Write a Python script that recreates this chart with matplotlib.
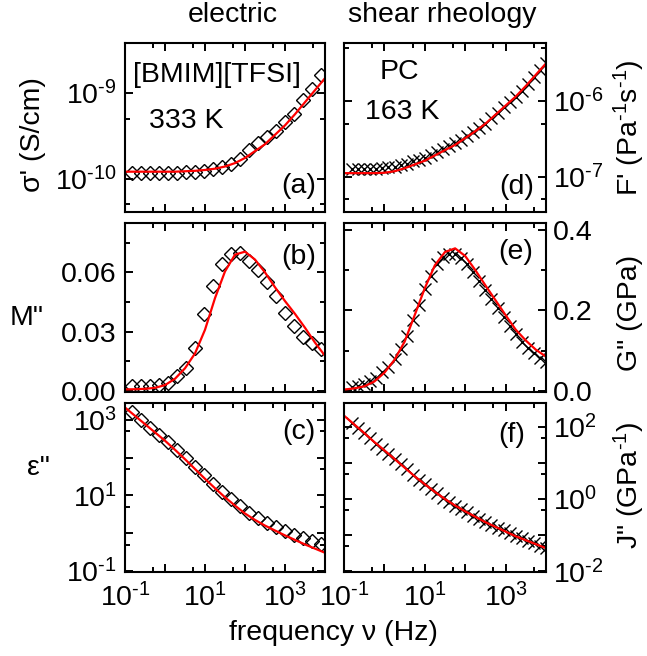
import numpy as np
import matplotlib
matplotlib.use('Agg')
import matplotlib.pyplot as plt
from matplotlib.ticker import FixedLocator, FuncFormatter, NullFormatter

plt.rcParams['font.family'] = ['Liberation Sans', 'DejaVu Sans']
plt.rcParams['mathtext.fontset'] = 'custom'
plt.rcParams['mathtext.rm'] = 'Liberation Sans'
plt.rcParams['mathtext.it'] = 'Liberation Sans:italic'
plt.rcParams['mathtext.bf'] = 'Liberation Sans:bold'
plt.rcParams['font.size'] = 20.5

# log10 of the measured frequencies (Hz)
lf_el = [-0.83, -0.61, -0.38, -0.16, 0.07, 0.30, 0.52, 0.75, 0.97, 1.20, 1.42,
         1.65, 1.87, 2.10, 2.32, 2.55, 2.77, 3.00, 3.22, 3.45, 3.67, 3.90]
lf_rh = [-0.80, -0.65, -0.50, -0.35, -0.20, -0.05, 0.10, 0.25, 0.40, 0.55, 0.70,
         0.85, 1.00, 1.15, 1.30, 1.45, 1.60, 1.75, 1.90, 2.05, 2.20, 2.35,
         2.50, 2.65, 2.80, 2.95, 3.10, 3.25, 3.40, 3.55, 3.70, 3.85, 4.00]
# log10 of the frequencies of the fit curves
lf_fit = [-1.0, -0.75, -0.5, -0.25, 0.0, 0.25, 0.5, 0.75, 1.0, 1.25, 1.5,
          1.75, 2.0, 2.25, 2.5, 2.75, 3.0, 3.25, 3.5, 3.75, 4.0]

# (a) log10 sigma' (S/cm)
sig_data = [-9.93, -9.93, -9.93, -9.93, -9.93, -9.93, -9.92, -9.92, -9.91, -9.89, -9.87,
            -9.83, -9.77, -9.67, -9.59, -9.51, -9.44, -9.34, -9.25, -9.09, -8.96, -8.79]
sig_fit = [-9.92, -9.92, -9.92, -9.92, -9.92, -9.92, -9.915, -9.91, -9.90, -9.885, -9.86,
           -9.82, -9.76, -9.68, -9.60, -9.49, -9.38, -9.25, -9.11, -8.97, -8.83]
# (b) M''
mpp_data = [0.0025, 0.0025, 0.0025, 0.003, 0.004, 0.0075, 0.0115, 0.022, 0.039, 0.053, 0.0645,
            0.0695, 0.070, 0.066, 0.061, 0.055, 0.048, 0.0395, 0.0328, 0.0272, 0.0242, 0.0215]
mpp_fit = [0.0008, 0.0009, 0.0011, 0.0016, 0.0030, 0.0062, 0.0115, 0.019, 0.031, 0.047, 0.0605,
           0.069, 0.0705, 0.0665, 0.060, 0.0525, 0.0455, 0.039, 0.032, 0.0245, 0.0178]
# (c) log10 eps''
eps_data = [3.20, 3.00, 2.80, 2.61, 2.41, 2.20, 1.99, 1.76, 1.54, 1.31, 1.10,
            0.90, 0.71, 0.54, 0.40, 0.27, 0.16, 0.05, -0.04, -0.13, -0.21, -0.30]
eps_fit = [3.33, 3.11, 2.89, 2.67, 2.45, 2.21, 1.96, 1.70, 1.44, 1.19, 0.95,
           0.73, 0.52, 0.35, 0.20, 0.07, -0.06, -0.18, -0.30, -0.41, -0.52]
# (d) log10 F' (Pa^-1 s^-1)
flu_data = [-6.90, -6.90, -6.90, -6.90, -6.895, -6.89, -6.88, -6.87, -6.85, -6.83, -6.80,
            -6.78, -6.75, -6.71, -6.68, -6.64, -6.60, -6.56, -6.52, -6.46, -6.41, -6.36,
            -6.30, -6.23, -6.16, -6.08, -6.01, -5.94, -5.86, -5.77, -5.68, -5.59, -5.50]
flu_fit = [-6.955, -6.955, -6.955, -6.955, -6.95, -6.93, -6.89, -6.84, -6.79, -6.72, -6.65,
           -6.58, -6.49, -6.40, -6.30, -6.18, -6.06, -5.94, -5.80, -5.65, -5.50]
# (e) G'' (GPa)
gpp_data = [0.010, 0.013, 0.017, 0.024, 0.033, 0.046, 0.060, 0.079, 0.105, 0.136, 0.175,
            0.214, 0.252, 0.285, 0.314, 0.332, 0.339, 0.340, 0.331, 0.316, 0.296, 0.274,
            0.251, 0.229, 0.206, 0.183, 0.161, 0.140, 0.122, 0.106, 0.093, 0.081, 0.071]
gpp_fit = [0.003, 0.006, 0.011, 0.023, 0.045, 0.077, 0.122, 0.188, 0.255, 0.312, 0.345,
           0.354, 0.335, 0.300, 0.262, 0.225, 0.188, 0.152, 0.125, 0.102, 0.085]
# (f) log10 J'' (GPa^-1)
jpp_data = [2.12, 1.97, 1.83, 1.68, 1.53, 1.40, 1.25, 1.11, 0.97, 0.82, 0.68,
            0.54, 0.41, 0.28, 0.16, 0.04, -0.07, -0.18, -0.28, -0.37, -0.46, -0.55,
            -0.64, -0.72, -0.80, -0.87, -0.95, -1.02, -1.09, -1.16, -1.23, -1.29, -1.35]
jpp_fit = [2.31, 2.07, 1.83, 1.58, 1.35, 1.11, 0.87, 0.63, 0.41, 0.20, 0.00,
           -0.18, -0.34, -0.49, -0.64, -0.77, -0.90, -1.03, -1.14, -1.25, -1.36]

W, H = 647, 656


def px(x, y):
    return x / W, 1 - y / H


def log_ticks(axis, lo, hi, labeled):
    majors = [10.0 ** e for e in range(lo, hi + 1)]
    minors = [5 * 10.0 ** e for e in range(lo - 1, hi + 1)]
    axis.set_major_locator(FixedLocator(majors))
    axis.set_minor_locator(FixedLocator(minors))
    axis.set_minor_formatter(NullFormatter())

    def fmt(v, pos):
        e = int(round(np.log10(v)))
        return r'$10^{\text{%d}}$' % e if e in labeled else ''
    axis.set_major_formatter(FuncFormatter(fmt))


def make_axes(fig, col, row):
    lefts = [125, 344]
    widths = [200, 202]
    tops = [43, 223, 403]
    x0, y0 = px(lefts[col], tops[row] + 169)
    ax = fig.add_axes([x0, y0, widths[col] / W, 169 / H])
    ax.set_xscale('log')
    ax.set_xlim(0.1, 1e4)
    log_ticks(ax.xaxis, -1, 4, [-1, 1, 3])
    ax.tick_params(which='both', direction='in', top=True, bottom=True,
                   left=True, right=True, width=1.4)
    ax.tick_params(which='major', length=6)
    ax.tick_params(which='minor', length=3.5)
    ax.tick_params(axis='x', pad=8)
    if col == 1:
        ax.tick_params(axis='y', labelleft=False, labelright=True, pad=5)
    else:
        ax.tick_params(axis='y', pad=6)
    if row < 2:
        ax.tick_params(axis='x', labelbottom=False)
    for s in ax.spines.values():
        s.set_linewidth(1.5)
    return ax


def draw(ax, lf, data, fit, marker, log=True):
    f = 10 ** np.array(lf)
    ff = 10 ** np.array(lf_fit)
    y = 10 ** np.array(data) if log else np.array(data)
    yf = 10 ** np.array(fit) if log else np.array(fit)
    if marker == 'D':
        ax.plot(f, y, 'D', ms=7.5, mfc='none', mec='black', mew=1.0)
    else:
        ax.plot(f, y, 'x', ms=9, mec='black', mew=1.0)
    ax.plot(ff, yf, '-', color='red', lw=1.6)


fig = plt.figure(figsize=(W / 100, H / 100), dpi=100)

# (a) conductivity
ax = make_axes(fig, 0, 0)
ax.set_yscale('log')
draw(ax, lf_el, sig_data, sig_fit, 'D')
ax.set_ylim(10 ** -10.39, 10 ** -8.42)
log_ticks(ax.yaxis, -11, -9, [-10, -9])

# (b) electric modulus
ax = make_axes(fig, 0, 1)
draw(ax, lf_el, mpp_data, mpp_fit, 'D', log=False)
ax.set_ylim(-0.0005, 0.085)
ax.yaxis.set_major_locator(FixedLocator([0.0, 0.03, 0.06]))
ax.yaxis.set_minor_locator(FixedLocator([0.015, 0.045, 0.075]))
ax.yaxis.set_major_formatter(FuncFormatter(lambda v, p: '%.2f' % v))

# (c) dielectric loss
ax = make_axes(fig, 0, 2)
ax.set_yscale('log')
draw(ax, lf_el, eps_data, eps_fit, 'D')
ax.set_ylim(10 ** -1.03, 10 ** 3.45)
log_ticks(ax.yaxis, -1, 3, [-1, 1, 3])

# (d) fluidity
ax = make_axes(fig, 1, 0)
ax.set_yscale('log')
draw(ax, lf_rh, flu_data, flu_fit, 'x')
ax.set_ylim(10 ** -7.47, 10 ** -5.23)
log_ticks(ax.yaxis, -8, -5, [-7, -6])

# (e) shear loss modulus
ax = make_axes(fig, 1, 1)
draw(ax, lf_rh, gpp_data, gpp_fit, 'x', log=False)
ax.set_ylim(-0.003, 0.417)
ax.yaxis.set_major_locator(FixedLocator([0.0, 0.2, 0.4]))
ax.yaxis.set_minor_locator(FixedLocator([0.1, 0.3]))
ax.yaxis.set_major_formatter(FuncFormatter(lambda v, p: '%.1f' % v))

# (f) loss compliance
ax = make_axes(fig, 1, 2)
ax.set_yscale('log')
draw(ax, lf_rh, jpp_data, jpp_fit, 'x')
ax.set_ylim(10 ** -2.02, 10 ** 2.66)
log_ticks(ax.yaxis, -2, 2, [-2, 0, 2])

# headers and axis labels
fig.text(*px(233, 15), 'electric', ha='center', va='center')
fig.text(*px(442, 15), 'shear rheology', ha='center', va='center')
fig.text(*px(333, 633), 'frequency \u03bd (Hz)', ha='center', va='center')
fig.text(*px(33, 135), "\u03c3' (S/cm)", rotation=90, ha='center', va='center')
fig.text(*px(27, 318), 'M"', ha='center', va='center')
fig.text(*px(38, 468), '\u03b5"', ha='center', va='center')
fig.text(*px(629, 128), r"F' (Pa$^{\text{-1}}$s$^{\text{-1}}$)", rotation=90,
         ha='center', va='center')
fig.text(*px(630, 313), 'G" (GPa)', rotation=90, ha='center', va='center')
fig.text(*px(629, 485), r'J" (GPa$^{\text{-1}}$)', rotation=90, ha='center', va='center')

# annotations inside the panels
fig.text(*px(217, 75), '[BMIM][TFSI]', ha='center', va='center')
fig.text(*px(186, 121), '333 K', ha='center', va='center')
fig.text(*px(399, 72), 'PC', ha='center', va='center')
fig.text(*px(402, 112), '163 K', ha='center', va='center')
for lab, x, y in [('(a)', 299, 186), ('(b)', 299, 257), ('(c)', 299, 432),
                  ('(d)', 517, 187), ('(e)', 516, 252), ('(f)', 512, 435)]:
    fig.text(*px(x, y), lab, ha='center', va='center')

fig.savefig('out.png', dpi=100)
